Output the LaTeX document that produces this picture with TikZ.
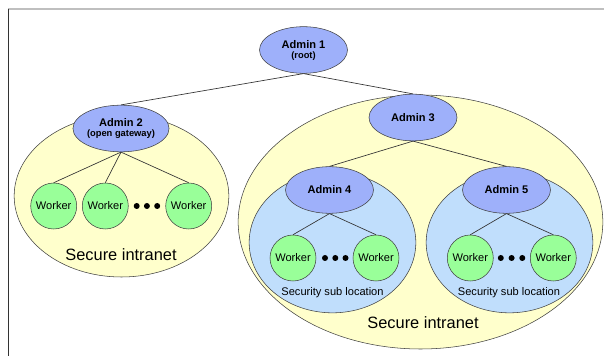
\documentclass[tikz,border=0pt]{standalone}
\usepackage{fontspec}
\setmainfont{Liberation Sans}
\usetikzlibrary{shapes.geometric}
\definecolor{adminblue}{RGB}{158,176,250}
\definecolor{zoneyellow}{RGB}{255,255,204}
\definecolor{subblue}{RGB}{192,222,252}
\definecolor{workergreen}{RGB}{153,255,153}
\begin{document}
\begin{tikzpicture}[x=0.75pt,y=-0.75pt,
  admin/.style={draw=black!75,fill=adminblue,ellipse,inner sep=0pt,minimum width=66pt,minimum height=35pt,align=center,font=\fontsize{8.3}{8}\selectfont\bfseries},
  worker/.style={draw=black!75,fill=workergreen,circle,inner sep=0pt,minimum size=34.5pt,font=\fontsize{8.3}{9}\selectfont},
  zone/.style={draw=black!75,fill=zoneyellow,ellipse,inner sep=0pt},
  subzone/.style={draw=black!75,fill=subblue,ellipse,inner sep=0pt,minimum width=125pt,minimum height=105.5pt},
  dot/.style={fill=black,circle,inner sep=0pt,minimum size=4.5pt},
  link/.style={draw=black!80,line width=0.5pt}]
\useasboundingbox (0,0) rectangle (604,356);
\draw[black!25,line width=0.8pt] (8,9) -- (604,9);
\draw[black!80,line width=1pt] (8.5,9) -- (8.5,356);
% zones
\node[zone,minimum width=161pt,minimum height=121.5pt] (z2) at (121.5,196) {};
\node[zone,minimum width=273.5pt,minimum height=190.5pt] (z3) at (420.5,222) {};
\node[subzone] (s4) at (332.5,242.5) {};
\node[subzone] (s5) at (509.5,242.5) {};
\node[font=\fontsize{12.3}{14}\selectfont] (l2) at (121,255) {Secure intranet};
\node[font=\fontsize{12.3}{14}\selectfont] (l3) at (423,323) {Secure intranet};
\node[font=\fontsize{8.3}{9}\selectfont] (l4) at (332.5,293) {Security sub location};
\node[font=\fontsize{8.3}{9}\selectfont] (l5) at (509,293) {Security sub location};
% admins
\node[admin] (a1) at (303.5,50) {Admin 1\\[-0.5pt]{\fontsize{7}{7}\selectfont (root)}};
\node[admin] (a2) at (121,128.5) {Admin 2\\[-0.5pt]{\fontsize{7}{7}\selectfont (open gateway)}};
\node[admin] (a3) at (413,117.5) {Admin 3};
\node[admin] (a4) at (329.5,190) {Admin 4};
\node[admin] (a5) at (506.5,190) {Admin 5};
% workers
\node[worker] (w21) at (53.7,206) {Worker};
\node[worker] (w22) at (105.3,206) {Worker};
\node[worker] (w23) at (188.7,206) {Worker};
\node[worker] (w41) at (293,258) {Worker};
\node[worker] (w42) at (376,258) {Worker};
\node[worker] (w51) at (470.3,258) {Worker};
\node[worker] (w52) at (553.3,258) {Worker};
\foreach \x [count=\i] in {136.7,146.9,157.2} \node[dot] (d2\i) at (\x,206) {};
\foreach \x [count=\i] in {325,335.3,345.5} \node[dot] (d4\i) at (\x,258) {};
\foreach \x [count=\i] in {500.8,511.6,522.3} \node[dot] (d5\i) at (\x,258) {};
% links
\path[link] (a1.south) -- (a2.north);
\path[link] (a1.south) -- (a3.north);
\path[link] (a2.south) -- (w21.north);
\path[link] (a2.south) -- (w22.north);
\path[link] (a2.south) -- (w23.north);
\path[link] (a3.south) -- (a4.north);
\path[link] (a3.south) -- (a5.north);
\path[link] (a4.south) -- (w41.north);
\path[link] (a4.south) -- (w42.north);
\path[link] (a5.south) -- (w51.north);
\path[link] (a5.south) -- (w52.north);
\end{tikzpicture}
\end{document}
